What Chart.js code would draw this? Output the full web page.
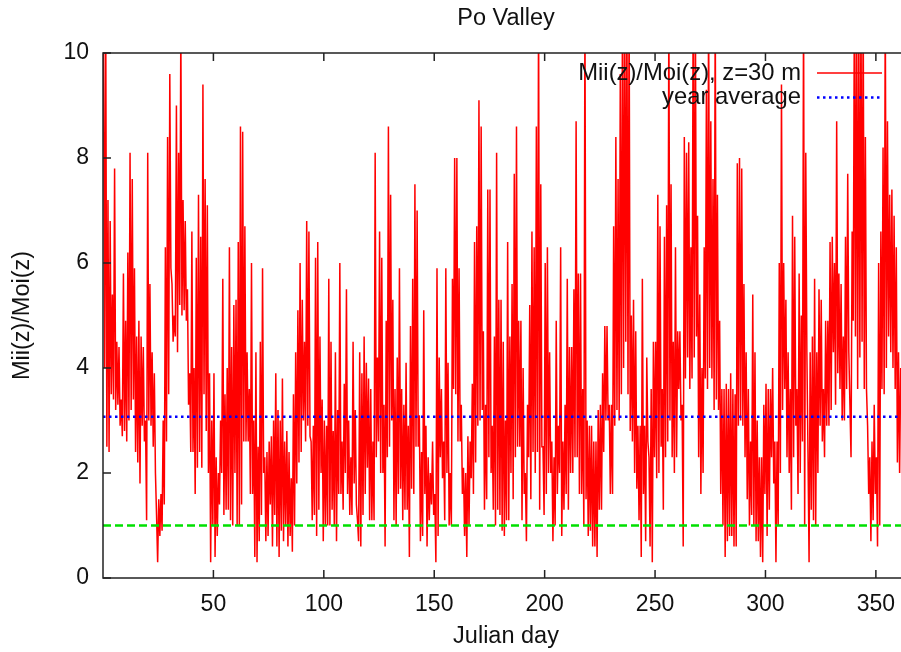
<!DOCTYPE html>
<html>
<head>
<meta charset="utf-8">
<script src="https://cdn.jsdelivr.net/npm/chart.js@4.4.1/dist/chart.umd.min.js"></script>
<style>
html,body{margin:0;padding:0;background:#ffffff;overflow:hidden;width:901px;height:652px}
#wrap{width:912px;height:652px}
canvas{display:block}
</style>
</head>
<body>
<div id="wrap"><canvas id="c" width="912" height="652"></canvas></div>
<script>
const chartTitle = 'Po Valley';
const xTitle = 'Julian day';
const yTitle = 'Mii(z)/Moi(z)';
const seriesLabel = 'Mii(z)/Moi(z), z=30 m';
const averageLabel = 'year average';
const xTickValues = [50, 100, 150, 200, 250, 300, 350];
const yTickValues = [0, 2, 4, 6, 8, 10];
const yearAverage = 3.07;
const unityLevel = 1.0;

// daily upper and lower excursions of Mii(z)/Moi(z) (day 0 .. 362)
const dayHigh = [
 10.5,10.5,7.2,6.8,5.4,7.8,4.5,4.4,3.4,5.8,
 4.9,6.2,8.1,7.6,5.9,4.6,4.9,4.6,4.4,3.0,
 8.1,5.6,4.3,3.9,1.2,1.5,1.6,3.0,6.3,8.4,
 9.6,5.6,5.0,9.0,8.1,10.5,7.2,6.8,5.5,3.9,
 6.6,4.0,6.1,7.3,6.5,9.4,7.6,7.1,3.9,3.0,
 3.9,2.3,2.0,3.0,5.7,3.5,4.0,6.3,4.4,5.2,
 5.3,6.4,8.6,8.5,6.7,4.3,3.6,6.0,3.0,4.3,
 2.5,4.5,5.9,2.3,2.4,2.6,2.7,3.0,3.9,3.2,
 3.0,3.8,2.6,2.8,2.4,1.9,3.5,4.3,5.1,6.0,
 5.3,4.5,6.8,6.6,2.6,2.9,6.1,6.4,4.6,3.4,
 3.0,2.9,5.7,4.5,2.8,4.3,3.2,6.0,2.6,3.7,
 5.5,3.0,2.3,4.5,3.2,1.1,4.3,3.9,4.6,4.1,
 3.8,3.6,2.6,8.1,4.2,6.6,6.1,3.3,4.9,8.6,
 7.3,5.3,3.6,4.2,5.9,3.6,3.3,4.1,2.9,4.8,
 5.7,7.5,7.0,3.1,2.4,5.1,2.9,2.3,2.0,2.6,
 1.6,5.9,4.2,3.6,2.6,5.9,4.1,2.0,5.7,8.0,
 8.0,5.9,3.3,2.1,2.0,2.7,2.6,3.7,6.4,6.7,
 9.1,8.6,4.7,3.3,7.4,7.4,2.9,4.6,8.1,5.3,
 5.3,4.5,3.0,6.4,4.6,5.6,7.7,8.6,4.9,4.9,
 4.0,2.0,3.3,5.2,6.6,6.3,8.6,11,7.5,2.5,
 6.0,6.3,4.3,2.6,2.3,4.9,2.9,6.3,2.6,3.3,
 5.7,4.4,4.4,5.5,8.7,5.8,5.8,3.6,11,3.0,
 2.9,2.9,2.6,2.6,3.2,3.3,3.9,4.8,4.8,3.3,
 3.3,6.7,8.4,7.6,9.6,11,11,11,11,5.0,
 5.3,4.7,2.9,2.9,5.7,2.9,4.2,2.3,3.6,4.5,
 4.5,7.3,6.7,3.6,6.5,7.1,11,7.5,4.5,6.3,
 4.7,4.7,3.3,8.4,8.1,8.3,6.3,11,11,6.9,
 5.4,4.0,6.3,9.3,11,8.7,7.6,11,7.3,4.9,
 3.6,3.6,3.7,3.6,3.9,3.6,3.5,7.9,8.0,7.8,
 5.6,4.3,3.6,2.6,5.4,4.3,3.0,2.3,2.3,3.3,
 3.7,3.6,3.6,4.0,2.6,2.6,6.0,9.4,6.0,5.3,
 4.3,3.6,6.9,6.5,3.6,5.8,5.0,11,8.1,2.4,
 4.3,4.6,5.7,4.3,5.5,5.3,3.6,4.9,4.9,6.4,
 6.5,6.0,8.7,5.8,5.6,4.6,6.5,7.7,3.3,6.6,
 11,11,11,11,11,8.4,2.9,2.3,2.6,3.3,
 2.3,6.0,6.6,8.2,11,8.7,7.3,7.4,6.9,6.3,
 4.3,4.0,4.3
];
const dayLow = [
 4.0,2.5,2.4,3.5,3.4,3.2,3.3,2.9,2.7,2.8,
 2.6,3.0,3.2,3.4,2.4,2.2,1.8,2.9,2.6,1.1,
 3.0,2.9,2.5,2.0,0.3,0.8,0.9,1.4,2.6,3.5,
 5.9,4.5,4.6,4.3,5.2,5.0,5.1,4.9,3.3,2.4,
 2.4,1.6,2.1,2.4,2.1,3.5,2.8,2.0,0.3,1.0,
 0.4,0.8,1.4,2.0,1.2,1.3,1.3,1.1,1.0,2.0,
 1.0,1.0,1.4,2.6,2.6,2.6,1.6,1.6,0.4,0.3,
 0.7,1.2,2.0,0.7,0.8,1.4,0.6,1.2,0.6,0.4,
 0.9,0.7,1.0,0.6,0.8,0.5,1.0,1.8,2.2,2.4,
 3.0,2.6,2.9,2.7,1.1,1.2,0.8,1.3,2.0,0.7,
 1.0,1.0,1.0,1.3,1.0,0.7,1.6,1.6,1.3,2.0,
 1.6,1.2,1.2,1.8,1.4,0.7,0.6,1.2,1.6,2.1,
 1.1,1.1,1.1,2.3,2.6,2.0,2.0,0.6,2.3,2.5,
 3.0,1.1,1.0,1.6,1.7,1.1,1.3,1.3,0.4,1.7,
 1.6,2.5,2.5,0.7,0.8,1.6,0.6,1.1,1.4,1.2,
 0.3,0.8,2.3,1.9,1.1,2.0,1.0,1.0,3.6,3.5,
 2.6,2.6,1.6,0.8,0.4,1.0,1.9,1.6,2.2,2.9,
 3.0,3.2,1.3,1.5,2.3,2.0,1.3,1.0,1.3,1.2,
 0.9,0.8,1.1,1.1,2.0,1.5,2.3,2.5,2.5,1.1,
 1.6,0.7,2.3,1.5,2.4,2.0,2.4,1.3,2.5,1.2,
 1.6,2.0,2.0,0.7,1.0,1.6,2.0,0.8,1.3,1.6,
 1.3,2.0,2.0,2.3,2.3,1.6,1.6,1.0,1.5,0.8,
 0.9,0.6,0.6,0.4,1.3,1.3,2.4,3.0,3.0,1.6,
 1.6,2.9,3.2,3.0,3.5,4.0,4.5,3.5,2.8,2.6,
 2.0,1.7,1.1,0.4,1.6,0.7,2.6,0.6,0.3,2.3,
 1.9,2.0,2.5,1.3,2.3,2.6,3.0,2.3,2.0,2.3,
 3.6,3.0,0.6,3.8,4.2,3.6,3.8,4.2,4.6,2.3,
 1.6,2.0,3.8,3.6,4.0,3.8,3.2,3.4,3.2,1.6,
 1.0,0.4,0.7,0.8,0.8,0.6,0.6,2.9,3.0,2.9,
 2.3,1.5,1.0,1.2,1.0,0.7,0.7,0.4,0.3,1.6,
 0.8,1.3,2.3,1.8,0.3,1.0,2.0,3.2,3.6,2.3,
 2.0,1.3,2.3,2.9,1.6,2.0,2.6,1.0,4.3,0.3,
 1.3,1.1,1.0,2.0,2.9,2.6,2.3,2.9,2.9,3.2,
 4.3,3.3,3.9,3.6,3.0,3.0,3.6,4.3,2.3,4.9,
 4.6,3.6,4.2,4.5,3.6,3.6,1.6,0.7,1.1,1.6,
 0.6,1.0,3.6,3.5,4.0,4.6,4.3,4.0,3.6,2.2,
 2.0,3.3,2.0
];

const series = [];
dayHigh.forEach((h, d) => {
  series.push({x: d + 0.25, y: h});
  series.push({x: d + 0.75, y: dayLow[d]});
});

const FONT = "'Liberation Sans', Arial, Helvetica, sans-serif";
const TXT = '#111111';
Chart.defaults.font.family = FONT;
Chart.defaults.color = TXT;

const framePlugin = {
  id: 'frame',
  afterDatasetsDraw(chart) {
    const {ctx, chartArea: a, scales} = chart;
    ctx.save();
    ctx.strokeStyle = '#222222';
    ctx.lineWidth = 1.5;
    ctx.beginPath();
    xTickValues.forEach(v => {
      const px = scales.x.getPixelForValue(v);
      ctx.moveTo(px, a.bottom); ctx.lineTo(px, a.bottom - 8);
      ctx.moveTo(px, a.top); ctx.lineTo(px, a.top + 8);
    });
    yTickValues.forEach(v => {
      const py = scales.y.getPixelForValue(v);
      ctx.moveTo(a.left, py); ctx.lineTo(a.left + 8, py);
      ctx.moveTo(a.right, py); ctx.lineTo(a.right - 8, py);
    });
    ctx.stroke();
    ctx.strokeRect(a.left, a.top, a.right - a.left, a.bottom - a.top);
    ctx.restore();
  }
};

const keyPlugin = {
  id: 'key',
  afterDraw(chart) {
    const {ctx, chartArea: a} = chart;
    const textRight = a.right - 108;
    const s0 = a.right - 92, s1 = a.right - 27;
    const rows = [
      {label: seriesLabel, y: 73, color: '#ff0000', width: 1.5, dash: []},
      {label: averageLabel, y: 97.5, color: '#0000ff', width: 2.5, dash: [2.5, 3.5]}
    ];
    ctx.save();
    ctx.font = '23.8px ' + FONT;
    ctx.textAlign = 'right';
    ctx.textBaseline = 'middle';
    rows.forEach(r => {
      ctx.fillStyle = TXT;
      ctx.fillText(r.label, textRight, r.y);
      ctx.beginPath();
      ctx.strokeStyle = r.color;
      ctx.lineWidth = r.width;
      ctx.setLineDash(r.dash);
      ctx.moveTo(s0, r.y); ctx.lineTo(s1, r.y);
      ctx.stroke();
    });
    ctx.restore();
  }
};

new Chart(document.getElementById('c').getContext('2d'), {
  type: 'line',
  data: {
    datasets: [
      {label: averageLabel, data: [{x: 0, y: yearAverage}, {x: 365, y: yearAverage}],
       borderColor: '#0000ff', borderWidth: 2.5, borderDash: [2.5, 3.5], pointRadius: 0, order: 0},
      {label: 'unity', data: [{x: 0, y: unityLevel}, {x: 365, y: unityLevel}],
       borderColor: '#00e000', borderWidth: 2.5, borderDash: [8, 4], pointRadius: 0, order: 1},
      {label: seriesLabel, data: series, borderColor: '#ff0000', borderWidth: 1.5,
       pointRadius: 0, tension: 0, order: 2}
    ]
  },
  options: {
    responsive: false,
    animation: false,
    events: [],
    layout: {padding: {left: 0, right: 3, top: 0, bottom: 0}},
    plugins: {
      legend: {display: false},
      tooltip: {enabled: false},
      title: {display: true, text: chartTitle, fullSize: false, color: TXT,
              font: {size: 23.5, weight: 'normal', family: FONT}, padding: {top: 4, bottom: 20.8}}
    },
    scales: {
      x: {
        type: 'linear', min: 0, max: 365,
        afterBuildTicks: s => { s.ticks = xTickValues.map(v => ({value: v})); },
        afterFit: s => { s.height = 74; },
        grid: {display: false, drawTicks: false},
        border: {display: false},
        ticks: {padding: 13, color: TXT, font: {size: 23}, autoSkip: false, maxRotation: 0},
        title: {display: true, text: xTitle, color: TXT, font: {size: 23.5}, padding: {top: 0, bottom: 1}}
      },
      y: {
        type: 'linear', min: 0, max: 10,
        afterBuildTicks: s => { s.ticks = yTickValues.map(v => ({value: v})); },
        afterFit: s => { s.width = 103; },
        grid: {display: false, drawTicks: false},
        border: {display: false},
        ticks: {padding: 14, color: TXT, font: {size: 23}},
        title: {display: true, text: yTitle, color: TXT, font: {size: 23.5}, padding: {top: 8.5, bottom: 0}}
      }
    }
  },
  plugins: [framePlugin, keyPlugin]
});
</script>
</body>
</html>
